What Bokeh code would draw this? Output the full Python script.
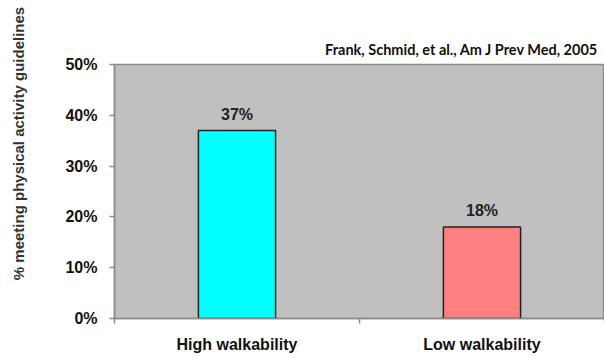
import math
from bokeh.plotting import figure
from bokeh.layouts import row
from bokeh.models import (ColumnDataSource, FixedTicker, NumeralTickFormatter,
                          Range1d, LabelSet, Title)
from bokeh.core.properties import value
from bokeh.embed import file_html
from bokeh.resources import INLINE

# Share of adults meeting physical activity guidelines, by neighbourhood walkability
categories = ["High walkability", "Low walkability"]
share = [0.37, 0.18]
value_labels = ["37%", "18%"]
bar_colors = ["#00ffff", "#ff8080"]
y_ticks = [0.0, 0.1, 0.2, 0.3, 0.4, 0.5]
source_note = "Frank, Schmid, et al., Am J Prev Med, 2005"
y_title = "% meeting physical activity guidelines"

TOTAL_W, TOTAL_H = 604, 358
TITLE_W = 36  # strip holding the vertical axis title

positions = [i + 0.5 for i in range(len(categories))]
src = ColumnDataSource(dict(x=positions, top=share, color=bar_colors, label=value_labels))

# Narrow strip for the rotated axis title (pixel-space ranges)
side = figure(width=TITLE_W, height=TOTAL_H, output_backend="svg", toolbar_location=None,
              x_range=Range1d(0, TITLE_W), y_range=Range1d(0, TOTAL_H),
              min_border=0, x_axis_location=None, y_axis_location=None)
side.frame_align = False
side.outline_line_color = None
side.background_fill_color = "white"
side.xgrid.visible = False
side.ygrid.visible = False
side.text(x=[TITLE_W / 2], y=[TOTAL_H - 143], text=[y_title], angle=math.pi / 2,
          text_align="center", text_baseline="middle",
          text_font=value("Liberation Sans"), text_font_style="bold",
          text_font_size="15px", text_color="#333333")

p = figure(width=TOTAL_W - TITLE_W, height=TOTAL_H, output_backend="svg",
           toolbar_location=None,
           x_range=Range1d(0, len(categories)), y_range=Range1d(0, 0.5),
           min_border_left=114 - TITLE_W, min_border_right=0, min_border_top=64,
           min_border_bottom=40)
p.frame_align = False

p.background_fill_color = "#c0c0c0"
p.border_fill_color = "white"
p.outline_line_color = "#8a8a8a"
p.outline_line_width = 1.5
p.xgrid.visible = False
p.ygrid.visible = False

p.vbar(x="x", top="top", width=0.315, bottom=0, source=src, fill_color="color",
       line_color="#222222", line_width=1.5)

p.add_layout(LabelSet(x="x", y="top", text="label", source=src, text_align="center",
                      text_baseline="bottom", y_offset=8,
                      text_font=value("Liberation Sans"),
                      text_font_style="bold", text_font_size="16px",
                      text_color="#222222"))

# Category axis: labels at bar centres, ticks between categories
xax = p.xaxis[0]
xax.ticker = FixedTicker(ticks=positions, minor_ticks=[0, 1, 2])
xax.major_label_overrides = {pos: name for pos, name in zip(positions, categories)}
xax.major_tick_line_color = None
xax.major_tick_out = 0
xax.major_tick_in = 0
xax.minor_tick_line_color = "#8a8a8a"
xax.minor_tick_out = 5
xax.minor_tick_in = 0
xax.minor_tick_line_width = 1.5
xax.axis_line_color = "#8a8a8a"
xax.axis_line_width = 1.5
xax.major_label_standoff = 12
xax.major_label_text_font = "Liberation Sans"
xax.major_label_text_font_style = "bold"
xax.major_label_text_font_size = "16px"
xax.major_label_text_color = "#111111"

yax = p.yaxis[0]
yax.ticker = FixedTicker(ticks=y_ticks)
yax.formatter = NumeralTickFormatter(format="0%")
yax.axis_line_color = "#8a8a8a"
yax.axis_line_width = 1.5
yax.major_tick_line_color = "#8a8a8a"
yax.major_tick_line_width = 1.5
yax.major_tick_out = 5
yax.major_tick_in = 0
yax.minor_tick_line_color = None
yax.major_label_standoff = 12
yax.major_label_text_font = "Liberation Sans"
yax.major_label_text_font_style = "bold"
yax.major_label_text_font_size = "16px"
yax.major_label_text_color = "#111111"

# Citation above the plot area, right aligned
p.add_layout(Title(text=source_note, align="right", offset=6, standoff=14,
                   text_font="Lato", text_font_style="bold",
                   text_font_size="14.5px", text_color="#111111"), "above")

layout = row(side, p, spacing=0)
open("out.html", "w").write(file_html(layout, INLINE))
